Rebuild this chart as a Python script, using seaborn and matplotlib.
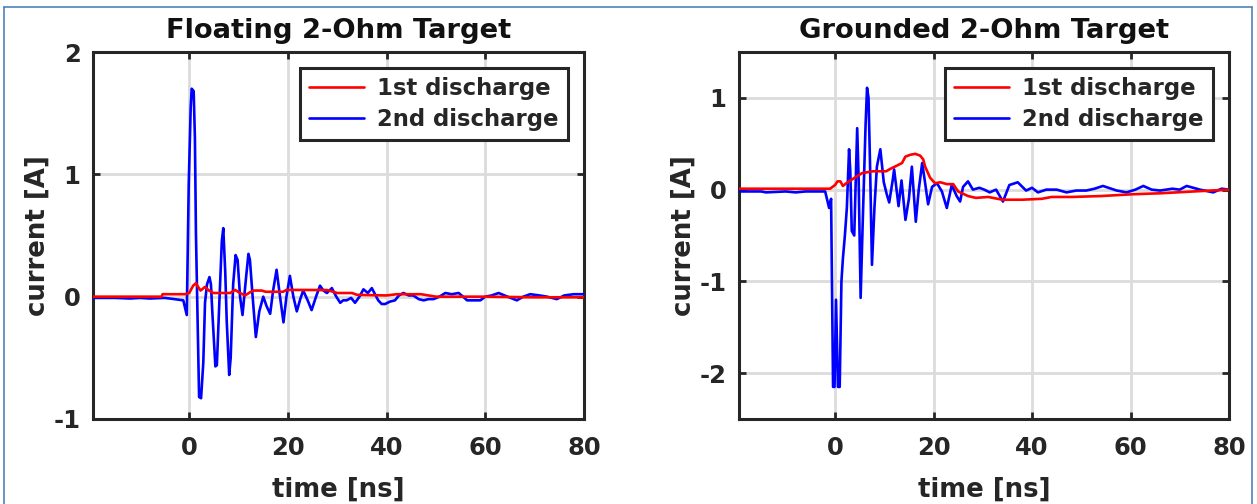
import matplotlib
matplotlib.use("Agg")
import matplotlib.pyplot as plt
import seaborn as sns
import pandas as pd
from matplotlib.lines import Line2D

# ---------------- data ----------------
titles = ["Floating 2-Ohm Target", "Grounded 2-Ohm Target"]
series_names = ["1st discharge", "2nd discharge"]
xlabel = "time [ns]"
ylabel = "current [A]"
x_ticks = [0, 20, 40, 60, 80]
y_ticks_float = [-1, 0, 1, 2]
y_ticks_ground = [-2, -1, 0, 1]

# Floating target, 1st discharge
t_float_1 = [-19.5, -5.6, -5.4, -0.9, 0.0, 0.8, 1.36, 1.8, 2.3, 3.2, 4.0, 4.9, 8.3, 9.3,
             10.3, 11.3, 12.5, 13.0, 14.7, 15.5, 16.4, 19.0, 19.7, 22.4, 23.0, 28.0, 30.0,
             33.0, 34.0, 40.0, 42.0, 47.0, 50.0, 60.0, 70.0, 80.0]
i_float_1 = [0.0, 0.0, 0.02, 0.02, 0.03, 0.09, 0.11, 0.08, 0.05, 0.08, 0.05, 0.03, 0.03, 0.055,
             0.03, 0.01, 0.04, 0.05, 0.05, 0.04, 0.04, 0.04, 0.055, 0.055, 0.055, 0.054, 0.03,
             0.03, 0.015, 0.01, 0.02, 0.02, 0.0, 0.0, -0.005, -0.005]

# Floating target, 2nd discharge
t_float_2 = [-19.5, -15, -12, -10, -8, -5, -3, -1.2, -0.5, -0.3, -0.1, 0.3, 0.5, 0.9, 1.15,
             1.36, 1.7, 2.0, 2.4, 2.85, 3.2, 3.6, 4.1, 4.4, 4.7, 5.3, 5.6, 6.1, 6.6, 6.9, 7.3,
             7.6, 8.1, 8.4, 8.9, 9.4, 9.8, 10.3, 10.8, 11.5, 12.0, 12.3, 12.85, 13.5, 14.2,
             15.0, 15.7, 16.4, 17.0, 17.7, 18.4, 19.1, 19.7, 20.4, 21.1, 21.8, 22.5, 23.1,
             24.0, 24.8, 25.7, 26.5, 27.2, 27.9, 28.9, 29.8, 30.6, 31.2, 31.9, 32.8, 33.6,
             34.5, 35.3, 36.2, 37.0, 38.3, 39.0, 39.7, 40.7, 41.7, 42.5, 43.4, 44.5, 45.4,
             46.5, 47.5, 48.5, 49.5, 50.7, 51.9, 53.2, 54.6, 55.5, 56.3, 57.6, 59.0, 60.0,
             61.3, 62.7, 64.5, 66.4, 67.7, 69.1, 71.0, 72.5, 74.5, 76.0, 77.9, 80.0]
i_float_2 = [-0.01, -0.01, -0.015, -0.01, -0.015, -0.01, -0.02, -0.03, -0.15, 0.38, 0.92, 1.55,
             1.70, 1.68, 1.3, 0.52, -0.2, -0.82, -0.83, -0.54, -0.05, 0.1, 0.16, 0.1, -0.14,
             -0.57, -0.56, -0.05, 0.45, 0.56, 0.2, -0.2, -0.64, -0.5, 0.1, 0.34, 0.3, 0.0,
             -0.15, 0.15, 0.35, 0.3, 0.0, -0.33, -0.12, 0.0, -0.08, -0.14, 0.05, 0.22, 0.0,
             -0.21, 0.0, 0.17, 0.0, -0.12, -0.02, 0.05, -0.03, -0.11, 0.0, 0.09, 0.05, 0.03,
             0.07, 0.0, -0.05, -0.03, -0.03, -0.01, -0.05, 0.0, 0.06, 0.03, 0.07, -0.03, -0.06,
             -0.06, -0.04, -0.03, 0.01, 0.03, 0.01, 0.01, -0.02, -0.03, -0.02, -0.02, 0.0, 0.03,
             0.02, 0.03, 0.0, -0.03, -0.03, -0.03, 0.0, 0.01, 0.03, 0.0, -0.03, 0.0, 0.02, 0.01,
             0.0, -0.02, 0.01, 0.02, 0.02]

# Grounded target, 1st discharge
t_ground_1 = [-19.5, -1.0, 0.0, 0.5, 1.1, 1.6, 2.3, 4.0, 5.5, 7.7, 10.4, 11.0, 12.5, 13.6,
              14.3, 15.3, 16.3, 17.3, 17.9, 18.3, 19.3, 20.3, 21.4, 22.7, 24.0, 25.0, 27.0,
              28.6, 31.1, 34.0, 38.0, 42.0, 44.0, 48.0, 54.0, 60.6, 66.0, 72.8, 80.0]
i_ground_1 = [0.01, 0.01, 0.05, 0.09, 0.09, 0.04, 0.07, 0.13, 0.18, 0.2, 0.2, 0.22, 0.26, 0.29,
              0.36, 0.38, 0.39, 0.37, 0.33, 0.25, 0.13, 0.07, 0.08, 0.06, 0.06, -0.02, -0.07,
              -0.09, -0.08, -0.11, -0.11, -0.10, -0.08, -0.08, -0.07, -0.05, -0.04, -0.02, 0.0]

# Grounded target, 2nd discharge
t_ground_2 = [-19.5, -15, -14, -10, -8, -6, -2, -1.2, -0.8, -0.4, -0.1, 0.2, 0.6, 0.95, 1.3,
              1.6, 2.0, 2.4, 2.85, 3.1, 3.4, 3.9, 4.5, 4.8, 5.2, 5.6, 6.2, 6.5, 6.8, 7.1, 7.5,
              8.0, 8.5, 9.2, 9.9, 10.5, 11.0, 11.7, 12.0, 12.9, 13.5, 14.3, 15.0, 15.6, 16.4,
              17.0, 17.7, 18.3, 18.9, 19.7, 20.7, 21.7, 22.7, 23.7, 24.7, 25.4, 26.0, 27.0,
              28.0, 29.3, 30.3, 31.4, 32.7, 34.1, 35.4, 37.1, 38.8, 40.0, 41.2, 42.9, 45.0,
              47.0, 49.0, 51.0, 52.7, 54.4, 57.2, 59.2, 61.0, 62.6, 64.3, 66.0, 68.5, 70.0,
              71.4, 74.1, 76.8, 78.5, 80.0]
i_ground_2 = [-0.02, -0.02, -0.03, -0.02, -0.03, -0.02, -0.02, -0.2, -0.1, -2.15, -2.15, -1.2,
              -2.15, -2.15, -1.0, -0.75, -0.5, -0.2, 0.44, 0.2, -0.45, -0.5, 0.67, 0.1, -1.18,
              -0.4, 0.7, 1.11, 1.0, 0.3, -0.82, -0.2, 0.25, 0.44, 0.08, -0.05, -0.14, 0.1, 0.22,
              -0.18, 0.1, -0.33, -0.1, 0.25, -0.35, 0.0, 0.29, 0.07, -0.16, 0.03, 0.07, -0.02,
              -0.2, 0.05, -0.07, -0.13, 0.03, 0.09, 0.0, 0.02, 0.0, -0.03, 0.0, -0.13, 0.05,
              0.08, -0.01, 0.02, -0.03, 0.0, 0.0, -0.03, -0.01, -0.01, 0.01, 0.04, -0.01, -0.03,
              0.0, 0.04, 0.0, -0.01, 0.01, 0.0, 0.04, 0.0, -0.03, 0.01, 0.0]

xlim = (-19.5, 80)
ylims = [(-1, 2), (-2.5, 1.5)]
colors = ["#ff0000", "#0000ff"]

# ---------------- plotting ----------------
sns.set_theme(style="white")
plt.rcParams["font.family"] = ["DejaVu Sans"]
plt.rcParams["font.weight"] = "bold"

W, H = 1257, 504
fig = plt.figure(figsize=(W / 100, H / 100), dpi=100)
fig.patch.set_facecolor("white")

def px_axes(x0, x1, y0, y1):
    return fig.add_axes([x0 / W, 1 - y1 / H, (x1 - x0) / W, (y1 - y0) / H])

ax_l = px_axes(93, 584, 52, 419)
ax_r = px_axes(739, 1229, 52, 419)

panels = [
    (ax_l, t_float_1, i_float_1, t_float_2, i_float_2, y_ticks_float, ylims[0], titles[0]),
    (ax_r, t_ground_1, i_ground_1, t_ground_2, i_ground_2, y_ticks_ground, ylims[1], titles[1]),
]

for ax, t1, i1, t2, i2, yt, yl, title in panels:
    df1 = pd.DataFrame({"t": t1, "i": i1})
    df2 = pd.DataFrame({"t": t2, "i": i2})
    sns.lineplot(data=df1, x="t", y="i", ax=ax, color=colors[0], linewidth=1.9,
                 estimator=None, sort=False, label=series_names[0], zorder=4)
    sns.lineplot(data=df2, x="t", y="i", ax=ax, color=colors[1], linewidth=1.9,
                 estimator=None, sort=False, label=series_names[1], zorder=3)
    ax.set_xlim(*xlim)
    ax.set_ylim(*yl)
    ax.set_xticks(x_ticks)
    ax.set_yticks(yt)
    ax.set_xticklabels([str(v) for v in x_ticks])
    ax.set_yticklabels([str(v) for v in yt])
    ax.grid(True, color="#dcdcdc", linewidth=2.0)
    ax.set_axisbelow(True)
    for s in ax.spines.values():
        s.set_visible(True)
        s.set_color("#262626")
        s.set_linewidth(2.2)
    ax.tick_params(axis="both", which="major", direction="in", length=5, width=2,
                   color="#262626", labelsize=17.5, labelcolor="#262626", pad=9,
                   top=True, right=True, bottom=True, left=True)
    ax.tick_params(axis="x", pad=12)
    for lab in ax.get_xticklabels() + ax.get_yticklabels():
        lab.set_fontweight("bold")
    ax.set_xlabel(xlabel, fontsize=18.7, fontweight="bold", color="#262626", labelpad=12)
    ax.set_ylabel(ylabel, fontsize=18.7, fontweight="bold", color="#262626", labelpad=2)
    ax.set_title(title, fontsize=19.7, fontweight="bold", color="#111111", pad=10)
    leg = ax.legend(loc="upper right", bbox_to_anchor=(0.967, 0.956), borderaxespad=0,
                    frameon=True, fancybox=False, edgecolor="#262626",
                    prop={"size": 16.4, "weight": "bold"}, handlelength=2.4,
                    handletextpad=0.6, borderpad=0.4, labelspacing=0.35)
    leg.get_frame().set_linewidth(2.2)
    leg.get_frame().set_alpha(1)

# screenshot-like blue frame
border_kw = dict(color="#4F81BD", linewidth=1.2, transform=fig.transFigure)
fig.add_artist(Line2D([4 / W, 4 / W], [0, 1 - 7 / H], **border_kw))
fig.add_artist(Line2D([4 / W, 1252 / W], [1 - 7 / H, 1 - 7 / H], **border_kw))
fig.add_artist(Line2D([1252 / W, 1252 / W], [0, 1 - 7 / H], **border_kw))

fig.savefig("out.png", dpi=100, facecolor="white")
